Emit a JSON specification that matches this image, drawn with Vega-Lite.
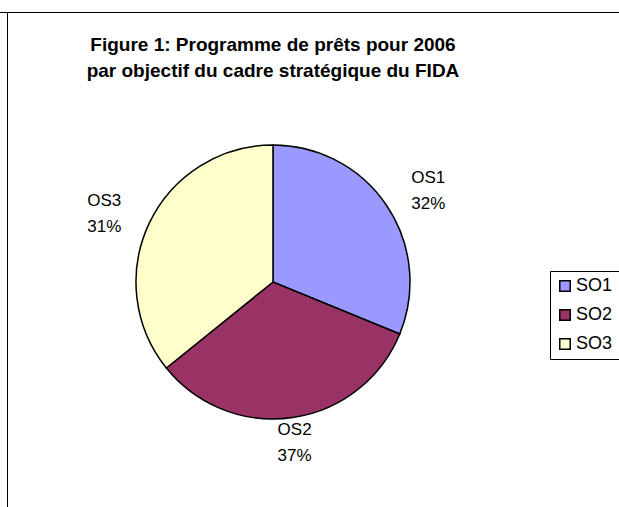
{
  "$schema": "https://vega.github.io/schema/vega-lite/v6.json",
  "width": 720,
  "height": 540,
  "padding": {"left": -87, "top": 12, "right": 0, "bottom": 0},
  "autosize": {"type": "pad"},
  "background": "white",
  "view": {"stroke": "black", "strokeWidth": 1},
  "title": {
    "text": ["Figure 1: Programme de prêts pour 2006", "par objectif du cadre stratégique du FIDA"],
    "font": "Liberation Sans",
    "fontSize": 19,
    "fontWeight": "bold",
    "color": "black",
    "anchor": "middle",
    "frame": "group",
    "baseline": "top",
    "offset": -69,
    "lineHeight": 26
  },
  "data": {
    "values": [
      {"objectif": "SO1", "part": 31.2, "label": "OS1\n32%"},
      {"objectif": "SO2", "part": 33.0, "label": "OS2\n37%"},
      {"objectif": "SO3", "part": 35.8, "label": "OS3\n31%"}
    ]
  },
  "layer": [
    {
      "mark": {"type": "rule", "opacity": 0},
      "encoding": {
        "y": {
          "datum": 0,
          "type": "quantitative",
          "scale": {"domain": [0, 1]},
          "axis": {"orient": "left", "offset": -94, "domain": true, "domainColor": "black", "domainWidth": 1, "ticks": false, "labels": false, "title": null, "grid": false}
        }
      }
    },
    {
      "mark": {"type": "arc", "outerRadius": 137, "stroke": "black", "strokeWidth": 1.5},
      "encoding": {
        "theta": {"field": "part", "type": "quantitative", "stack": true},
        "color": {
          "field": "objectif",
          "type": "nominal",
          "scale": {"domain": ["SO1", "SO2", "SO3"], "range": ["#9999FF", "#993366", "#FFFFCC"]},
          "legend": {
            "orient": "none",
            "legendX": 637,
            "legendY": 259,
            "title": null,
            "strokeColor": "black",
            "fillColor": "white",
            "padding": 6,
            "symbolType": "square",
            "symbolSize": 110,
            "symbolStrokeColor": "black",
            "symbolStrokeWidth": 1.5,
            "labelFont": "Liberation Sans",
            "labelFontSize": 18,
            "labelColor": "black",
            "rowPadding": 11,
            "labelOffset": 2
          }
        }
      }
    },
    {
      "mark": {"type": "text", "radius": 187, "font": "Liberation Sans", "fontSize": 17, "lineBreak": "\n", "lineHeight": 26, "color": "black"},
      "encoding": {
        "theta": {"field": "part", "type": "quantitative", "stack": true},
        "text": {"condition": {"test": "datum.objectif === 'SO2'", "value": ""}, "field": "label"},
        "detail": {"field": "objectif"}
      }
    },
    {
      "mark": {"type": "text", "radius": 150, "font": "Liberation Sans", "fontSize": 17, "lineBreak": "\n", "lineHeight": 26, "color": "black"},
      "encoding": {
        "theta": {"field": "part", "type": "quantitative", "stack": true},
        "text": {"condition": {"test": "datum.objectif !== 'SO2'", "value": ""}, "field": "label"},
        "detail": {"field": "objectif"}
      }
    }
  ]
}
